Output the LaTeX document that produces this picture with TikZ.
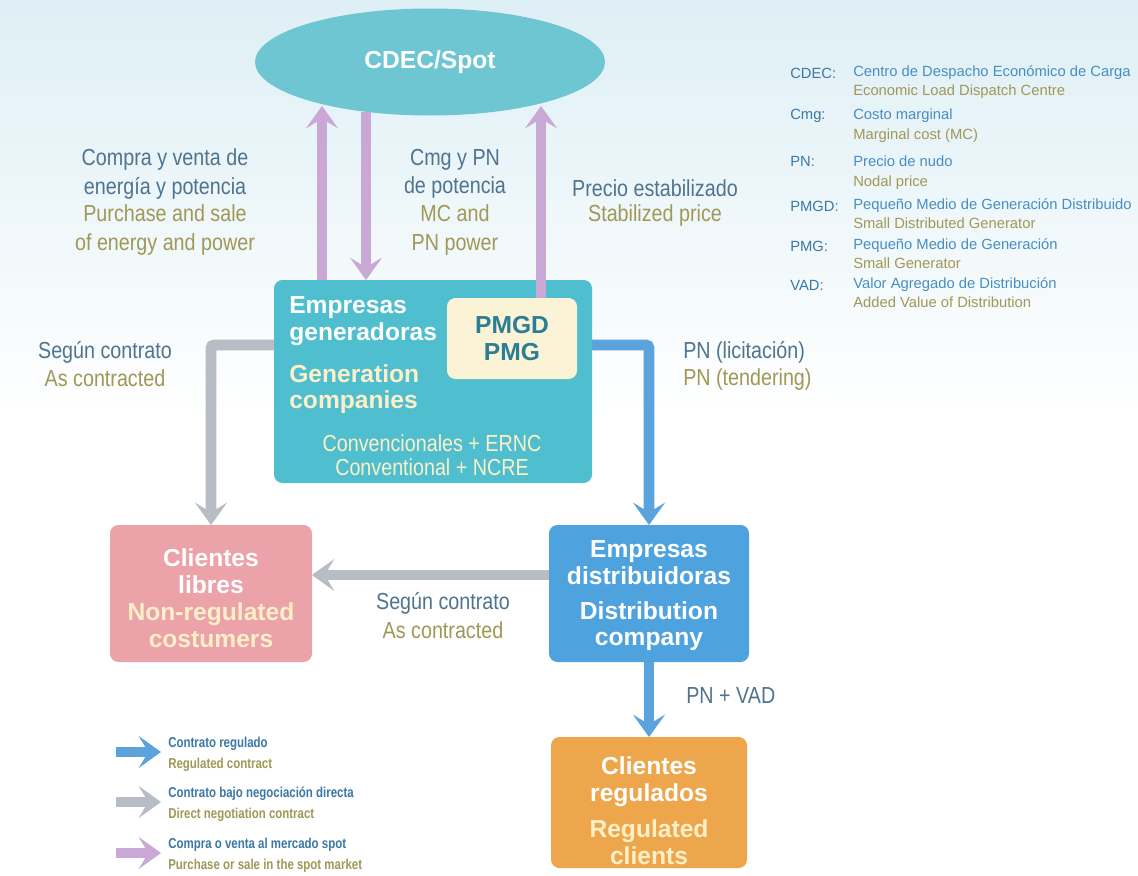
\documentclass[tikz,border=0pt]{standalone}
\usepackage{fontspec}
\setmainfont{Liberation Sans}
\newfontfamily\narrowfont{Liberation Sans}[FakeStretch=0.85]
\newfontfamily\keyfont{Liberation Sans}[FakeStretch=0.8]
\usetikzlibrary{arrows.meta,shapes.geometric,positioning}

\definecolor{bgtop}{RGB}{222,239,245}
\definecolor{cdecc}{RGB}{110,198,211}
\definecolor{genc}{RGB}{79,190,207}
\definecolor{pmgdc}{RGB}{251,243,214}
\definecolor{pmgdt}{RGB}{44,125,150}
\definecolor{libc}{RGB}{235,162,169}
\definecolor{disc}{RGB}{78,163,222}
\definecolor{regc}{RGB}{238,166,76}
\definecolor{spotc}{RGB}{201,168,214}
\definecolor{dirc}{RGB}{184,189,197}
\definecolor{regac}{RGB}{90,163,221}
\definecolor{esc}{RGB}{79,116,143}
\definecolor{enc}{RGB}{160,152,86}
\definecolor{creamt}{RGB}{253,240,200}
\definecolor{abbc}{RGB}{58,120,165}
\definecolor{desc}{RGB}{70,142,198}

\begin{document}
\begin{tikzpicture}[x=0.025cm,y=-0.025cm]
  % pixel grid: 1 unit = 1 px of the original, y runs downwards
  \tikzset{
    sz/.style 2 args = {minimum width=#1*0.025cm, minimum height=#2*0.025cm},
    box/.style   = {rounded corners=6pt, inner sep=0pt, outer sep=0pt},
    head/.style  = {font=\bfseries\fontsize{17.5}{19}\selectfont, align=center, text=white, inner sep=0pt},
    sub/.style   = {head, text=creamt},
    es/.style    = {font=\narrowfont\fontsize{16.5}{20}\selectfont, align=center, text=esc, inner sep=0pt},
    en/.style    = {es, text=enc},
    abbr/.style  = {font=\fontsize{10.5}{12}\selectfont, text=abbc, anchor=west, inner sep=0pt},
    dsc/.style   = {abbr, text=desc},
    dsce/.style  = {abbr, text=enc},
    keyes/.style = {font=\keyfont\bfseries\fontsize{10.2}{11}\selectfont, text=abbc, anchor=west, inner sep=0pt},
    keyen/.style = {keyes, text=enc},
    tip/.style   = {-{Stealth[length=16pt, width=23pt, inset=7pt, line width=0pt]}},
    spotarrow/.style   = {draw=spotc, line width=7.5pt, tip},
    directarrow/.style = {draw=dirc, line width=7.5pt, tip},
    regularrow/.style  = {draw=regac, line width=7.5pt, tip}
  }

  % ========= background =========
  \useasboundingbox (0,0) rectangle (1138,875);
  \fill[white] (0,0) rectangle (1138,875);
  \shade[top color=bgtop, bottom color=white] (0,0) rectangle (1138,420);

  % ========= boxes =========
  \node[ellipse, fill=cdecc, sz={350}{107}, inner sep=0pt,
        font=\bfseries\fontsize{17.5}{19}\selectfont, text=white] (cdec) at (430,62) {CDEC/Spot};
  \node[box, fill=genc, sz={318}{203}] (gen) at (433,381.5) {};
  \node[box, fill=pmgdc, sz={130}{81}, head, text=pmgdt] (pmgd) at (512,338.5) {PMGD\\PMG};
  \node[box, fill=libc, sz={202}{137}] (libres) at (211,593.5) {};
  \node[box, fill=disc, sz={200}{137}] (distrib) at (649,593.5) {};
  \node[box, fill=regc, sz={196}{131}] (regul) at (649,802.5) {};

  % texts inside the boxes
  \node[head, anchor=west, align=left] (gen-es) at (289,321) {Empresas\\generadoras};
  \node[sub, anchor=west, align=left] (gen-en) at (289,389) {Generation\\companies};
  \node[es, text=creamt, font=\narrowfont\fontsize{16.5}{17}\selectfont] (gen-tech) at (432,455)
    {Convencionales + ERNC\\Conventional + NCRE};
  \node[head] (libres-es) at (211,571) {Clientes\\libres};
  \node[sub] (libres-en) at (211,625) {Non-regulated\\costumers};
  \node[head] (distrib-es) at (649,563) {Empresas\\distribuidoras};
  \node[head] (distrib-en) at (649,626) {Distribution\\company};
  \node[head] (regul-es) at (649,782) {Clientes\\regulados};
  \node[sub] (regul-en) at (649,842) {Regulated\\clients};

  % ========= connectors =========
  \coordinate (spot-l) at (322,106);
  \coordinate (spot-m) at (366,112);
  \coordinate (spot-r) at (541,106);
  \draw[spotarrow] (gen.north -| spot-l) -- (spot-l);
  \draw[spotarrow] (spot-m) -- (gen.north -| spot-m);
  \draw[spotarrow] (pmgd.north -| spot-r) -- (spot-r);

  \coordinate (gen-l) at (gen.west |- 0,345);
  \coordinate (gen-r) at (gen.east |- 0,345);
  \draw[directarrow, rounded corners=2pt] (gen-l) -| (libres.north);
  \draw[regularrow, rounded corners=2pt] (gen-r) -| (distrib.north);
  \draw[directarrow] (distrib.west |- 0,575) -- (libres.east |- 0,575);
  \draw[regularrow] (distrib.south) -- (regul.north);

  % ========= labels =========
  \node[es] (buy-es) at (165,174) {Compra y venta de\\energía y potencia};
  \node[en] (buy-en) at (165,230) {Purchase and sale\\of energy and power};
  \node[es] (cmg-es) at (455,174) {Cmg y PN\\de potencia};
  \node[en] (cmg-en) at (455,230) {MC and\\PN power};
  \node[es] (stab-es) at (655,188) {Precio estabilizado};
  \node[en] (stab-en) at (655,215) {Stabilized price};
  \node[es] (cont1-es) at (105,352) {Según contrato};
  \node[en] (cont1-en) at (105,378) {As contracted};
  \node[es, anchor=west] (lic-es) at (683,352) {PN (licitación)};
  \node[en, anchor=west] (lic-en) at (683,379) {PN (tendering)};
  \node[es] (cont2-es) at (443,603) {Según contrato};
  \node[en] (cont2-en) at (443,630) {As contracted};
  \node[es, anchor=west] (vad) at (686,696) {PN + VAD};

  % ========= abbreviations (top right) =========
  \node[abbr] (a1) at (790,73)  {CDEC:};
  \node[dsc]  (d1) at (853,73)  {Centro de Despacho Económico de Carga};
  \node[dsce] (e1) at (853,92)  {Economic Load Dispatch Centre};
  \node[abbr] (a2) at (790,116) {Cmg:};
  \node[dsc]  (d2) at (853,116) {Costo marginal};
  \node[dsce] (e2) at (853,136) {Marginal cost (MC)};
  \node[abbr] (a3) at (790,161) {PN:};
  \node[dsc]  (d3) at (853,161) {Precio de nudo};
  \node[dsce] (e3) at (853,183) {Nodal price};
  \node[abbr] (a4) at (790,206) {PMGD:};
  \node[dsc]  (d4) at (853,206) {Pequeño Medio de Generación Distribuido};
  \node[dsce] (e4) at (853,223) {Small Distributed Generator};
  \node[abbr] (a5) at (790,246) {PMG:};
  \node[dsc]  (d5) at (853,246) {Pequeño Medio de Generación};
  \node[dsce] (e5) at (853,263) {Small Generator};
  \node[abbr] (a6) at (790,285) {VAD:};
  \node[dsc]  (d6) at (853,285) {Valor Agregado de Distribución};
  \node[dsce] (e6) at (853,302) {Added Value of Distribution};

  % ========= arrow key (bottom left) =========
  \foreach \y/\sty/\txtes/\txten in {
      752/regularrow/Contrato regulado/Regulated contract,
      802/directarrow/Contrato bajo negociación directa/Direct negotiation contract,
      853/spotarrow/Compra o venta al mercado spot/Purchase or sale in the spot market} {
    \coordinate (k-a\y) at (116,\y);
    \coordinate (k-b\y) at (161,\y);
    \draw[\sty] (k-a\y) -- (k-b\y);
    \node[keyes] (k-es\y) at (168,\y-8) {\txtes};
    \node[keyen] (k-en\y) at (168,\y+13) {\txten};
  }
\end{tikzpicture}
\end{document}
